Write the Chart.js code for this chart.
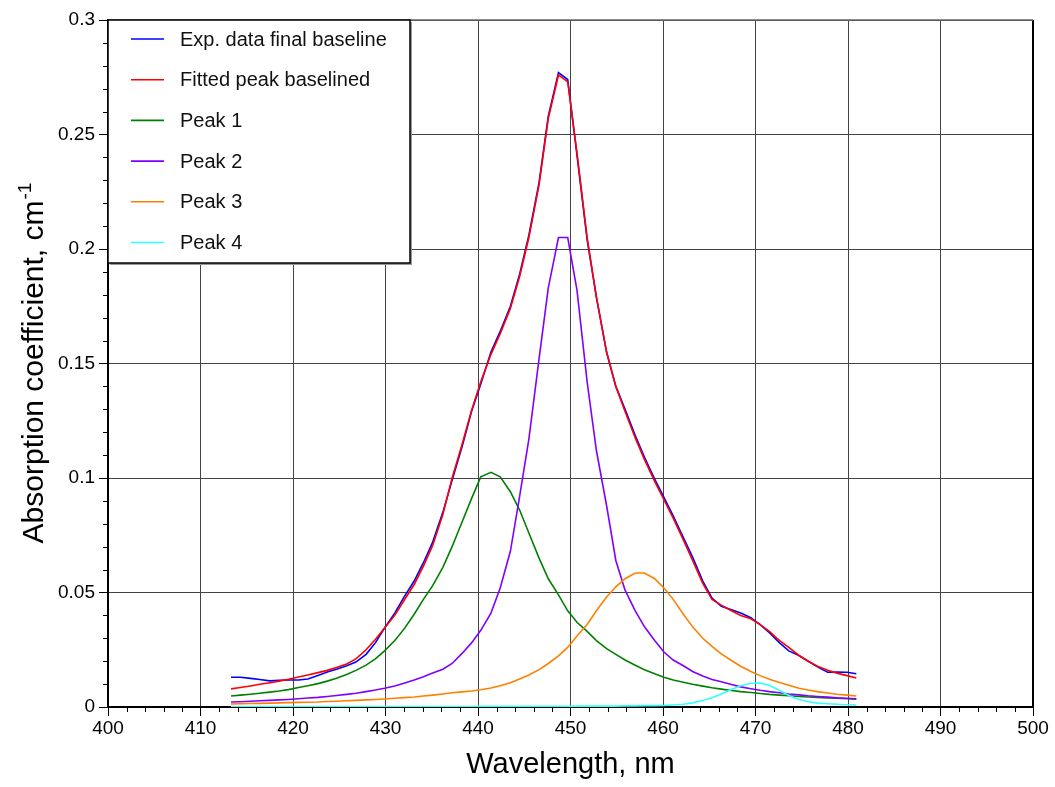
<!DOCTYPE html>
<html>
<head>
<meta charset="utf-8">
<script src="https://cdn.jsdelivr.net/npm/chart.js@4.4.1/dist/chart.umd.min.js"></script>
<style>
  html, body { margin: 0; padding: 0; background: #fff; }
  #wrap { width: 1055px; height: 787px; }
</style>
</head>
<body>
<div id="wrap"><canvas id="chart" width="1055" height="787"></canvas></div>
<script>
"use strict";

const wavelength = [413.3, 414.3, 415.4, 416.4, 417.5, 418.5, 419.5, 420.6, 421.6, 422.7, 423.7, 424.7, 425.8, 426.8, 427.9, 428.9, 429.9,
    431.0, 432.0, 433.1, 434.1, 435.1, 436.2, 437.2, 438.3, 439.3, 440.3, 441.4, 442.4, 443.5, 444.5, 445.5, 446.6, 447.6,
    448.7, 449.7, 450.7, 451.8, 452.8, 453.9, 454.9, 455.9, 457.0, 458.0, 459.1, 460.1, 461.1, 462.2, 463.2, 464.3,
    465.3, 466.3, 467.4, 468.4, 469.5, 470.5, 471.5, 472.6, 473.6, 474.7, 475.7, 476.7, 477.8, 478.8, 479.9, 480.9];

const expData = [0.0130, 0.0130, 0.0125, 0.0120, 0.0114, 0.0117, 0.0118, 0.0118, 0.0122, 0.0138, 0.0153, 0.0165, 0.0180, 0.0196, 0.0230, 0.0280, 0.0345,
    0.0410, 0.0480, 0.0550, 0.0630, 0.0720, 0.0850, 0.0990, 0.1140, 0.1290, 0.1410, 0.1550, 0.1640, 0.1750, 0.1890, 0.2060, 0.2290, 0.2580,
    0.2770, 0.2740, 0.2410, 0.2040, 0.1790, 0.1550, 0.1400, 0.1300, 0.1185, 0.1090, 0.0995, 0.0915, 0.0835, 0.0740, 0.0655, 0.0550,
    0.0475, 0.0440, 0.0425, 0.0410, 0.0390, 0.0360, 0.0325, 0.0280, 0.0245, 0.0225, 0.0200, 0.0175, 0.0152, 0.0153, 0.0152, 0.0145];

const fittedPeak = [0.0079, 0.0085, 0.0092, 0.0099, 0.0106, 0.0113, 0.0121, 0.0131, 0.0140, 0.0150, 0.0160, 0.0172, 0.0188, 0.0210, 0.0250, 0.0295, 0.0345,
    0.0400, 0.0465, 0.0535, 0.0615, 0.0705, 0.0840, 0.1000, 0.1150, 0.1295, 0.1420, 0.1540, 0.1630, 0.1740, 0.1880, 0.2050, 0.2280, 0.2570,
    0.2760, 0.2730, 0.2420, 0.2050, 0.1790, 0.1550, 0.1400, 0.1290, 0.1175, 0.1080, 0.0985, 0.0905, 0.0825, 0.0730, 0.0640, 0.0540,
    0.0470, 0.0445, 0.0420, 0.0400, 0.0385, 0.0360, 0.0330, 0.0290, 0.0260, 0.0225, 0.0200, 0.0178, 0.0160, 0.0148, 0.0137, 0.0127];

const peak1 = [0.0048, 0.0052, 0.0056, 0.0060, 0.0065, 0.0070, 0.0076, 0.0085, 0.0093, 0.0102, 0.0113, 0.0126, 0.0142, 0.0160, 0.0183, 0.0210, 0.0245,
    0.0290, 0.0340, 0.0405, 0.0470, 0.0530, 0.0610, 0.0700, 0.0810, 0.0910, 0.1005, 0.1025, 0.1005, 0.0940, 0.0860, 0.0760, 0.0650, 0.0560,
    0.0490, 0.0420, 0.0370, 0.0330, 0.0290, 0.0255, 0.0230, 0.0205, 0.0182, 0.0163, 0.0145, 0.0130, 0.0118, 0.0108, 0.0099, 0.0091,
    0.0084, 0.0078, 0.0072, 0.0067, 0.0063, 0.0059, 0.0055, 0.0052, 0.0049, 0.0046, 0.0044, 0.0042, 0.0040, 0.0038, 0.0036, 0.0034];

const peak2 = [0.0022, 0.0023, 0.0025, 0.0027, 0.0029, 0.0031, 0.0033, 0.0036, 0.0039, 0.0042, 0.0046, 0.0050, 0.0055, 0.0060, 0.0067, 0.0074, 0.0082,
    0.0092, 0.0104, 0.0118, 0.0132, 0.0148, 0.0165, 0.0190, 0.0235, 0.0280, 0.0335, 0.0410, 0.0520, 0.0680, 0.0920, 0.1170, 0.1520, 0.1830,
    0.2050, 0.2050, 0.1820, 0.1420, 0.1120, 0.0880, 0.0640, 0.0510, 0.0420, 0.0350, 0.0290, 0.0240, 0.0205, 0.0180, 0.0155, 0.0135,
    0.0120, 0.0110, 0.0098, 0.0088, 0.0080, 0.0073, 0.0067, 0.0062, 0.0057, 0.0053, 0.0049, 0.0046, 0.0043, 0.0040, 0.0038, 0.0036];

const peak3 = [0.0013, 0.0014, 0.0015, 0.0016, 0.0017, 0.0018, 0.0019, 0.0020, 0.0021, 0.0022, 0.0024, 0.0025, 0.0027, 0.0029, 0.0031, 0.0033, 0.0035,
    0.0038, 0.0041, 0.0044, 0.0048, 0.0052, 0.0057, 0.0062, 0.0066, 0.0070, 0.0075, 0.0083, 0.0093, 0.0106, 0.0122, 0.0140, 0.0163, 0.0190,
    0.0223, 0.0260, 0.0310, 0.0360, 0.0420, 0.0480, 0.0525, 0.0560, 0.0585, 0.0585, 0.0560, 0.0520, 0.0470, 0.0405, 0.0350, 0.0300,
    0.0265, 0.0232, 0.0203, 0.0178, 0.0155, 0.0137, 0.0121, 0.0107, 0.0095, 0.0082, 0.0074, 0.0067, 0.0061, 0.0056, 0.0052, 0.0048];

const peak4 = [0.0002, 0.0002, 0.0002, 0.0002, 0.0002, 0.0002, 0.0002, 0.0002, 0.0002, 0.0002, 0.0002, 0.0002, 0.0002, 0.0002, 0.0002, 0.0002, 0.0002,
    0.0002, 0.0002, 0.0002, 0.0002, 0.0002, 0.0002, 0.0002, 0.0002, 0.0002, 0.0003, 0.0003, 0.0003, 0.0003, 0.0003, 0.0003, 0.0003, 0.0003,
    0.0003, 0.0003, 0.0004, 0.0004, 0.0004, 0.0004, 0.0004, 0.0005, 0.0005, 0.0006, 0.0006, 0.0007, 0.0009, 0.0012, 0.0018, 0.0028,
    0.0040, 0.0057, 0.0076, 0.0093, 0.0104, 0.0105, 0.0095, 0.0072, 0.0050, 0.0033, 0.0023, 0.0017, 0.0014, 0.0012, 0.0010, 0.0009];

const seriesNames = ["Exp. data final baseline", "Fitted peak baselined", "Peak 1", "Peak 2", "Peak 3", "Peak 4"];
const seriesValues = [expData, fittedPeak, peak1, peak2, peak3, peak4];
const seriesColors = ["#0000ff", "#ff0000", "#008000", "#8000ff", "#ff8000", "#33ffff"];

const xRange = [400, 500];
const yRange = [0, 0.3];
const xTitle = "Wavelength, nm";
const yTitle = "Absorption coefficient, cm";
const yTitleSup = "-1";

const FONT = "'Liberation Sans', Arial, Helvetica, sans-serif";

function toPoints(values) {
    return values.map(function(v, i) { return { x: wavelength[i], y: v }; });
}

let datasets = seriesNames.map(function(name, i) {
    return {
        label: name,
        data: toPoints(seriesValues[i]),
        borderColor: seriesColors[i],
        backgroundColor: seriesColors[i],
        borderWidth: 1.6,
        pointRadius: 0,
        tension: 0,
        fill: false,
        order: seriesNames.length - i
    };
});

// minor ticks, frame, axis titles and boxed legend
const decor = {
    id: "decor",
    afterDraw: function(chart) {
        const ctx = chart.ctx;
        const area = chart.chartArea;
        const xs = chart.scales.x;
        const ys = chart.scales.y;

        ctx.save();
        ctx.strokeStyle = "#000";
        ctx.lineWidth = 1;
        ctx.beginPath();
        for (let v = xRange[0]; v <= xRange[1]; v += 2) {
            if (v % 10 === 0) continue;
            let px = Math.round(xs.getPixelForValue(v)) + 0.5;
            ctx.moveTo(px, area.bottom);
            ctx.lineTo(px, area.bottom + 5);
        }
        for (let k = 0; k <= 30; k++) {
            if (k % 5 === 0) continue;
            let py = Math.round(ys.getPixelForValue(k / 100)) + 0.5;
            ctx.moveTo(area.left, py);
            ctx.lineTo(area.left - 5, py);
        }
        ctx.stroke();

        // right and top frame
        ctx.lineWidth = 2;
        ctx.beginPath();
        ctx.moveTo(area.right, area.top);
        ctx.lineTo(area.right, area.bottom);
        ctx.stroke();
        ctx.strokeStyle = "#666";
        ctx.lineWidth = 1.5;
        ctx.beginPath();
        ctx.moveTo(area.left, area.top);
        ctx.lineTo(area.right, area.top);
        ctx.stroke();

        // x title
        ctx.fillStyle = "#000";
        ctx.font = "29px " + FONT;
        ctx.textAlign = "center";
        ctx.textBaseline = "alphabetic";
        ctx.fillText(xTitle, (area.left + area.right) / 2, 773);

        // y title with superscript
        ctx.save();
        ctx.translate(43, (area.top + area.bottom) / 2);
        ctx.rotate(-Math.PI / 2);
        ctx.font = "30px " + FONT;
        let w1 = ctx.measureText(yTitle).width;
        ctx.font = "19px " + FONT;
        let w2 = ctx.measureText(yTitleSup).width;
        let start = -(w1 + w2) / 2;
        ctx.textAlign = "left";
        ctx.font = "30px " + FONT;
        ctx.fillText(yTitle, start, 0);
        ctx.font = "19px " + FONT;
        ctx.fillText(yTitleSup, start + w1 + 1, -12);
        ctx.restore();

        // legend box
        let bx = area.left, by = area.top, bw = 302, bh = 243;
        ctx.fillStyle = "#999";
        ctx.fillRect(bx + 2, by + 2, bw, bh);
        ctx.fillStyle = "#fff";
        ctx.fillRect(bx, by, bw, bh);
        ctx.strokeStyle = "#000";
        ctx.lineWidth = 1.5;
        ctx.strokeRect(bx, by, bw, bh);
        ctx.font = "20px " + FONT;
        ctx.textBaseline = "middle";
        ctx.textAlign = "left";
        chart.data.datasets.forEach(function(ds, i) {
            let ry = by + 19 + i * 40.7;
            ctx.strokeStyle = ds.borderColor;
            ctx.lineWidth = 1.6;
            ctx.beginPath();
            ctx.moveTo(bx + 23, ry);
            ctx.lineTo(bx + 56, ry);
            ctx.stroke();
            ctx.fillStyle = "#111";
            ctx.fillText(ds.label, bx + 72, ry + 1);
        });
        ctx.restore();
    }
};

let chartHtml = document.getElementById("chart");
let chart = new Chart(chartHtml, {
    type: "line",
    data: { datasets: datasets },
    options: {
        responsive: false,
        animation: false,
        devicePixelRatio: 1,
        layout: { padding: { left: 0, top: 20, right: 22, bottom: 0 } },
        plugins: {
            legend: { display: false },
            tooltip: { enabled: false },
            title: { display: false }
        },
        scales: {
            x: {
                type: "linear",
                min: xRange[0],
                max: xRange[1],
                afterFit: function(scale) { scale.height = 80; },
                border: { display: true, color: "#000", width: 2 },
                grid: { color: "#444", lineWidth: 1, tickLength: 9, tickColor: "#000" },
                ticks: {
                    stepSize: 10,
                    autoSkip: false,
                    maxRotation: 0,
                    padding: 1,
                    color: "#000",
                    font: { family: FONT, size: 19 }
                }
            },
            y: {
                type: "linear",
                min: yRange[0],
                max: yRange[1],
                afterFit: function(scale) { scale.width = 108; },
                border: { display: true, color: "#000", width: 2 },
                grid: { color: "#444", lineWidth: 1, tickLength: 9, tickColor: "#000" },
                ticks: {
                    stepSize: 0.05,
                    padding: 4,
                    color: "#000",
                    font: { family: FONT, size: 19 },
                    callback: function(v) { return String(Math.round(v * 100) / 100); }
                }
            }
        }
    },
    plugins: [decor]
});
</script>
</body>
</html>
